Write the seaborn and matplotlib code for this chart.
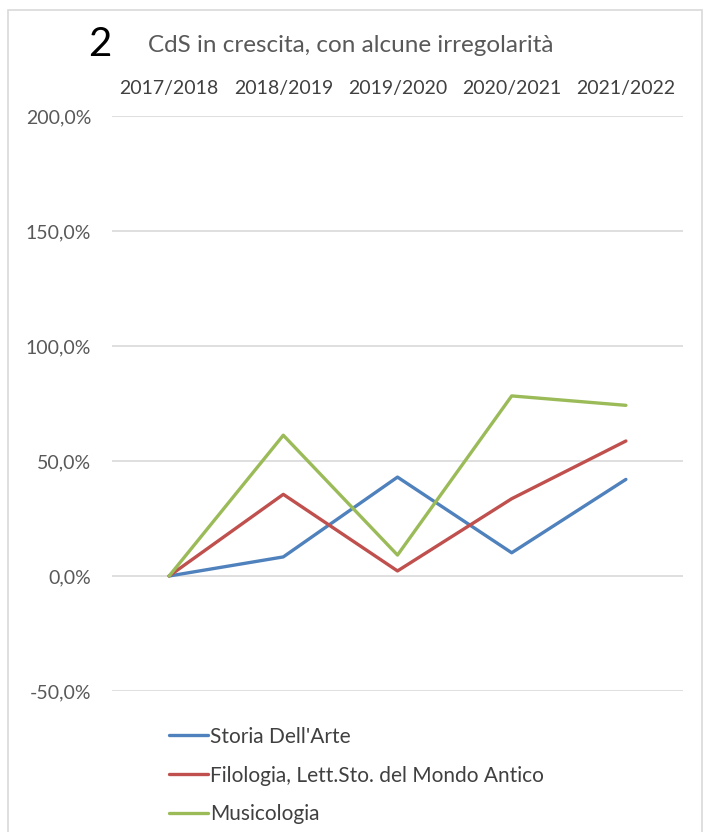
import matplotlib
matplotlib.use("Agg")
import matplotlib.pyplot as plt
import matplotlib.patches as mpatches
import seaborn as sns
import pandas as pd

# anni accademici e variazioni percentuali
anni = ["2017/2018", "2018/2019", "2019/2020", "2020/2021", "2021/2022"]
storia_arte = [0.0, 8.3, 43.0, 10.1, 42.0]
filologia = [0.0, 35.5, 2.2, 33.6, 58.7]
musicologia = [0.0, 61.2, 9.1, 78.3, 74.2]

serie = ["Storia Dell'Arte", "Filologia, Lett.Sto. del Mondo Antico", "Musicologia"]
colori = ["#4F81BD", "#C0504D", "#9BBB59"]

df = pd.DataFrame({
    "anno": anni * 3,
    "valore": storia_arte + filologia + musicologia,
    "corso": [serie[0]] * 5 + [serie[1]] * 5 + [serie[2]] * 5,
})

sns.set_style("white")
plt.rcParams["font.family"] = ["Lato", "DejaVu Sans"]

fig = plt.figure(figsize=(7.07, 8.32), dpi=100)
ax = fig.add_axes([112 / 707, 1 - 691 / 832, 571 / 707, 575 / 832])

sns.lineplot(data=df, x="anno", y="valore", hue="corso", palette=colori,
             linewidth=2.4, sort=False, ax=ax, legend=False)

ax.set_xlim(-0.5, 4.5)
ax.set_ylim(-50, 200)
ax.set_yticks([-50, 0, 50, 100, 150, 200])
ax.set_yticklabels([f"{v:.1f}%".replace(".", ",") for v in ax.get_yticks()],
                   color="#595959", fontsize=14)
ax.grid(axis="y", color="#d9d9d9", linewidth=1.2)
ax.set_axisbelow(True)
ax.xaxis.tick_top()
ax.tick_params(axis="x", length=0, pad=14, labelsize=14, labelcolor="#404040")
ax.tick_params(axis="y", length=0, pad=15)
ax.set_xlabel("")
ax.set_ylabel("")
for s in ax.spines.values():
    s.set_visible(False)

# titolo
fig.text(88 / 707, 1 - 44 / 832, "2", fontsize=29, color="black", va="center")
fig.text(148 / 707, 1 - 45 / 832, "CdS in crescita, con alcune irregolarità",
         fontsize=17.5, color="#595959", va="center")

# legenda in basso
handles = [plt.Line2D([], [], color=c, linewidth=2.4) for c in colori]
fig.legend(handles, serie, loc="upper left", bbox_to_anchor=(150 / 707, 1 - 708 / 832),
           frameon=False, handlelength=1.9, handletextpad=0.1, labelspacing=0.9,
           fontsize=15, labelcolor="#404040")

# cornice
fig.patches.append(mpatches.Rectangle((8 / 707, -0.05), 694 / 707, 1.05 - 10 / 832,
                                      transform=fig.transFigure, fill=False,
                                      edgecolor="#d9d9d9", linewidth=1.2))

plt.savefig("out.png", dpi=100)
